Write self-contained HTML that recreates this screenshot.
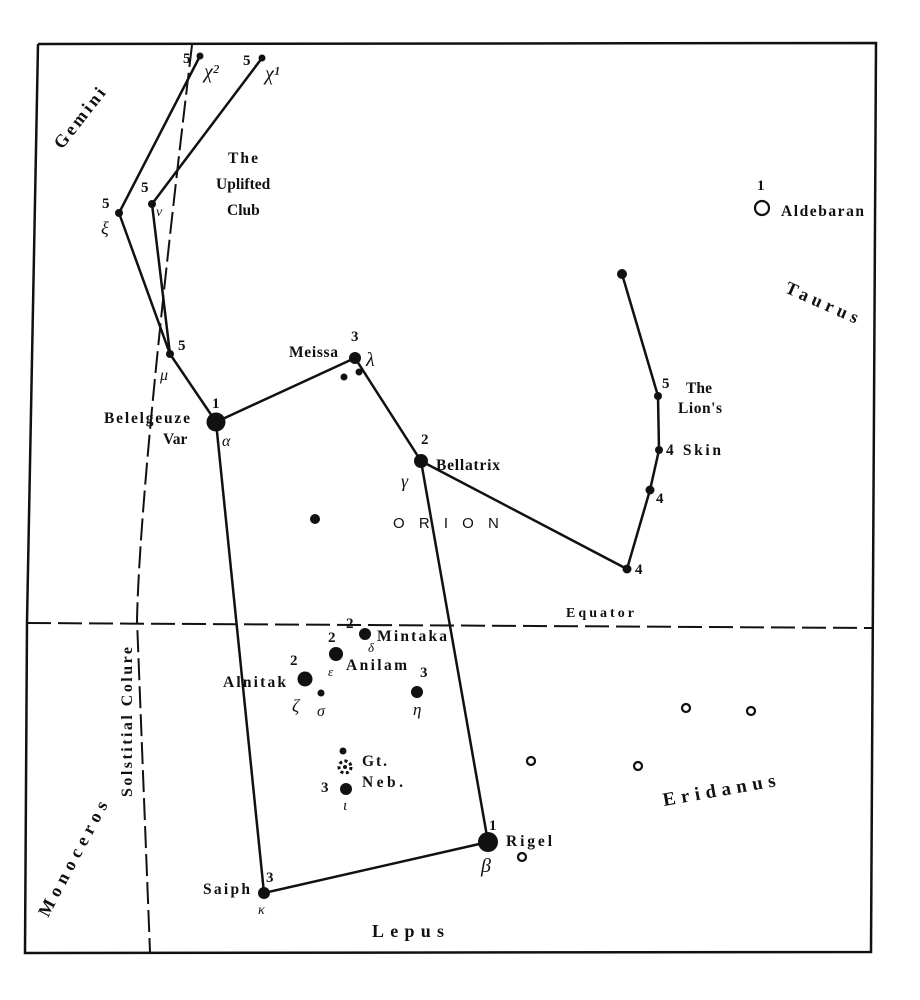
<!DOCTYPE html>
<html><head><meta charset="utf-8"><style>
html,body{margin:0;padding:0;background:#fff;}
svg{display:block;}
text{font-family:"Liberation Serif",serif;font-weight:bold;fill:#111;}
.g{font-style:italic;font-weight:normal;}
</style></head><body>
<svg width="920" height="1000" viewBox="0 0 920 1000" xmlns="http://www.w3.org/2000/svg">
<g stroke="#111" fill="none">
<polyline points="38,44 876,43 871,952 25,953 27,622 38,44" stroke-width="2.5"/>
<path d="M192,45 Q140,480 137,620 L150,952" stroke-width="2" stroke-dasharray="22,6"/>
<line x1="27" y1="623" x2="874" y2="628" stroke-width="2" stroke-dasharray="24,7"/>
<g stroke-width="2.5">
<polyline points="200,56 119,213 170,354 216,422 355,358 421,461 627,569 650,490 659,450 658,396 622,274"/>
<polyline points="262,58 152,204 170,354"/>
<polyline points="216,422 264,893 488,842 421,461"/>
</g>
<g stroke-width="2.2">
<circle cx="762" cy="208" r="7"/>
<circle cx="531" cy="761" r="4"/><circle cx="638" cy="766" r="4"/>
<circle cx="686" cy="708" r="4"/><circle cx="751" cy="711" r="4"/>
<circle cx="522" cy="857" r="4"/>
<circle cx="345" cy="767" r="6" stroke-dasharray="3,2.5" stroke-width="3"/>
</g>
</g>
<g fill="#111">
<circle cx="200" cy="56" r="3.5"/><circle cx="262" cy="58" r="3.5"/>
<circle cx="119" cy="213" r="4"/><circle cx="152" cy="204" r="4"/>
<circle cx="170" cy="354" r="4"/><circle cx="216" cy="422" r="9.5"/>
<circle cx="355" cy="358" r="6"/><circle cx="344" cy="377" r="3.5"/><circle cx="359" cy="372" r="3.5"/>
<circle cx="421" cy="461" r="7"/><circle cx="315" cy="519" r="5"/>
<circle cx="622" cy="274" r="5"/><circle cx="658" cy="396" r="4"/><circle cx="659" cy="450" r="4"/>
<circle cx="650" cy="490" r="4.5"/><circle cx="627" cy="569" r="4.5"/>
<circle cx="365" cy="634" r="6"/><circle cx="336" cy="654" r="7"/><circle cx="305" cy="679" r="7.5"/>
<circle cx="321" cy="693" r="3.5"/><circle cx="417" cy="692" r="6"/>
<circle cx="343" cy="751" r="3.5"/><circle cx="345" cy="767" r="2"/><circle cx="346" cy="789" r="6"/>
<circle cx="488" cy="842" r="10"/><circle cx="264" cy="893" r="6"/>
</g>
<g font-size="15">
<text x="183" y="63">5</text><text x="243" y="65">5</text>
<text x="102" y="208">5</text><text x="141" y="192">5</text>
<text x="178" y="350">5</text><text x="212" y="408">1</text>
<text x="351" y="341">3</text><text x="421" y="444">2</text>
<text x="662" y="388">5</text><text x="656" y="503">4</text><text x="635" y="574">4</text>
<text x="757" y="190">1</text>
<text x="346" y="628">2</text><text x="328" y="642">2</text><text x="290" y="665">2</text>
<text x="420" y="677">3</text><text x="321" y="792">3</text>
<text x="489" y="830">1</text><text x="266" y="882">3</text>
</g>
<g font-size="20" class="g">
<text x="204" y="78" class="g">χ²</text><text x="265" y="80" class="g">χ¹</text>
<text x="101" y="234" font-size="18" class="g">ξ</text><text x="156" y="216" font-size="14" class="g">ν</text>
<text x="160" y="380" font-size="16" class="g">μ</text><text x="222" y="446" font-size="16" class="g">α</text>
<text x="366" y="366" class="g">λ</text><text x="401" y="487" font-size="18" class="g">γ</text>
<text x="368" y="652" font-size="13" class="g">δ</text><text x="328" y="676" font-size="13" class="g">ε</text>
<text x="292" y="712" font-size="18" class="g">ζ</text><text x="317" y="716" font-size="16" class="g">σ</text>
<text x="413" y="715" font-size="17" class="g">η</text><text x="343" y="810" font-size="15" class="g">ι</text>
<text x="481" y="872" class="g">β</text><text x="258" y="914" font-size="14" class="g">κ</text>
</g>
<g font-size="15.5">
<text x="228" y="163" textLength="30">The</text>
<text x="216" y="189">Uplifted</text>
<text x="227" y="215">Club</text>
<text x="289" y="357" textLength="49">Meissa</text>
<text x="104" y="423" textLength="86">Belelgeuze</text>
<text x="163" y="444">Var</text>
<text x="436" y="470" textLength="64">Bellatrix</text>
<text x="686" y="393" textLength="26">The</text>
<text x="678" y="413" textLength="44">Lion's</text>
<text x="666" y="455" textLength="55">4 Skin</text>
<text x="781" y="216" textLength="83">Aldebaran</text>
<text x="566" y="617" textLength="68" font-size="14">Equator</text>
<text x="377" y="641" textLength="70">Mintaka</text>
<text x="346" y="670" textLength="61">Anilam</text>
<text x="223" y="687" textLength="63">Alnitak</text>
<text x="362" y="766" textLength="25">Gt.</text>
<text x="362" y="787" textLength="41">Neb.</text>
<text x="506" y="846" textLength="46">Rigel</text>
<text x="203" y="894" textLength="47">Saiph</text>
</g>
<text x="393" y="528" font-size="15" style="font-family:'Liberation Sans',sans-serif;font-weight:normal;letter-spacing:5px">O R I O N</text>
<text x="372" y="937" font-size="18" textLength="72">Lepus</text>
<text transform="translate(664,806) rotate(-10)" font-size="19" textLength="114">Eridanus</text>
<text transform="translate(784,292) rotate(24)" font-size="18" textLength="78">Taurus</text>
<text transform="translate(62,150) rotate(-52)" font-size="18" textLength="72">Gemini</text>
<text transform="translate(48,918) rotate(-62)" font-size="18" textLength="128">Monoceros</text>
<text transform="translate(132,797) rotate(-90)" font-size="16" textLength="150">Solstitial  Colure</text>
</svg>
</body></html>
